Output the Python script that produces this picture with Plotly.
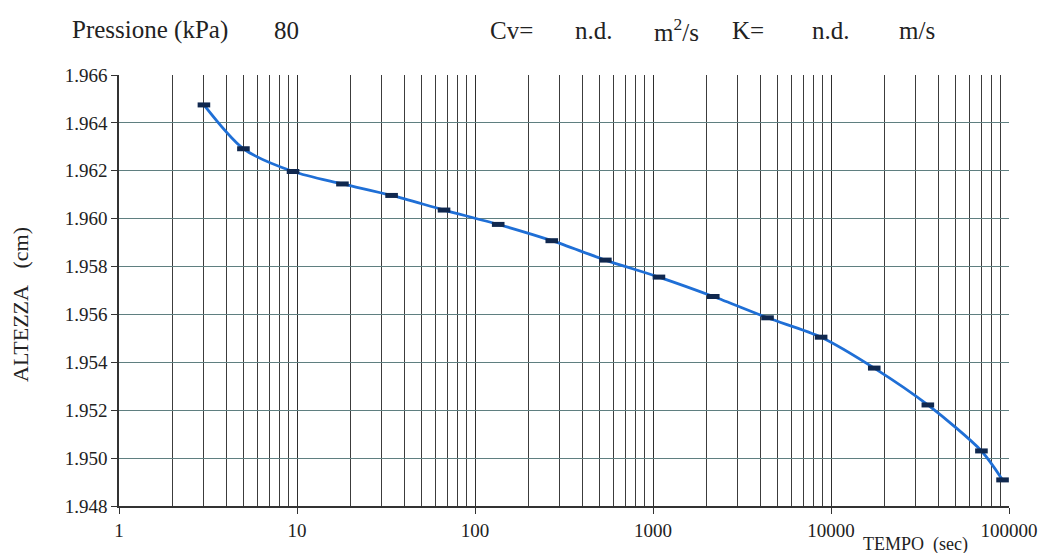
import plotly.graph_objects as go

# letture (tempo in secondi, altezza in cm)
tempo = [3, 5, 9.5, 18, 34, 67, 135, 270, 540, 1080, 2180, 4400, 8800, 17500, 35000, 70000, 92000]
altezza = [1.96475, 1.96292, 1.96197, 1.96145, 1.96097, 1.96036, 1.95976, 1.95908, 1.95827,
           1.95756, 1.95675, 1.95586, 1.95505, 1.95376, 1.95222, 1.95030, 1.94909]

x_ticks = [1, 10, 100, 1000, 10000, 100000]
x_minor = [m * d for d in [1, 10, 100, 1000, 10000] for m in range(2, 10)]
y_ticks = [1.948, 1.950, 1.952, 1.954, 1.956, 1.958, 1.960, 1.962, 1.964, 1.966]

FONT = '"Liberation Serif", "Times New Roman", serif'
W, H = 1041, 553
L, R, T, B = 119, 1009, 75, 506


def px_x(p):
    return (p - L) / (R - L)


def px_y(p):
    return (B - p) / (B - T)


fig = go.Figure()

fig.add_trace(go.Scatter(
    x=tempo, y=altezza, mode="lines",
    line=dict(color="#1f6fd6", width=2.8, shape="spline", smoothing=0.8),
    hoverinfo="skip",
))
fig.add_trace(go.Scatter(
    x=tempo, y=altezza, mode="markers",
    marker=dict(symbol="line-ew", size=9, line=dict(color="#10284f", width=5)),
))

fig.update_xaxes(
    type="log", range=[0, 5], automargin=False,
    tickvals=x_ticks, ticktext=[str(v) for v in x_ticks],
    showgrid=True, gridcolor="#2e2e2e", gridwidth=1,
    minor=dict(tickvals=x_minor, showgrid=True, gridcolor="#3c3c3c", gridwidth=1, ticks=""),
    ticks="outside", ticklen=6, tickcolor="#333",
    showline=True, linecolor="#333", linewidth=1.5,
    zeroline=False,
    tickfont=dict(family=FONT, size=19, color="#222"),
)
fig.update_yaxes(
    range=[1.948, 1.966], automargin=False,
    tickvals=y_ticks, ticktext=[f"{v:.3f}" for v in y_ticks],
    showgrid=True, gridcolor="#5f7f80", gridwidth=1,
    ticks="outside", ticklen=6, tickcolor="#333",
    showline=True, linecolor="#333", linewidth=1.5,
    zeroline=False,
    tickfont=dict(family=FONT, size=19, color="#222"),
)

header = [
    ("Pressione (kPa)", 70),
    ("80", 272),
    ("Cv=", 488),
    ("n.d.", 573),
    ("m<sup>2</sup>/s", 652),
    ("K=", 730),
    ("n.d.", 810),
    ("m/s", 897),
]
annotations = [
    dict(text=t, x=px_x(p), y=px_y(30), xref="paper", yref="paper",
         xanchor="left", yanchor="middle", showarrow=False,
         font=dict(family=FONT, size=25, color="#222"))
    for t, p in header
]
annotations.append(dict(
    text="TEMPO&nbsp;&nbsp;(sec)", x=px_x(861), y=px_y(544), xref="paper", yref="paper",
    xanchor="left", yanchor="middle", showarrow=False,
    font=dict(family=FONT, size=18, color="#222"),
))
annotations.append(dict(
    text="ALTEZZA&nbsp;&nbsp;&nbsp;(cm)", x=px_x(20), y=px_y(305), xref="paper", yref="paper",
    xanchor="center", yanchor="middle", textangle=-90, showarrow=False,
    font=dict(family=FONT, size=22, color="#222"),
))

fig.update_layout(
    width=W, height=H,
    margin=dict(l=L, r=W - R, t=T, b=H - B),
    plot_bgcolor="white", paper_bgcolor="white",
    showlegend=False,
    annotations=annotations,
)

fig.write_html(
    "out.html",
    config={"displayModeBar": False},
    post_script="document.body.style.margin='0';",
)
